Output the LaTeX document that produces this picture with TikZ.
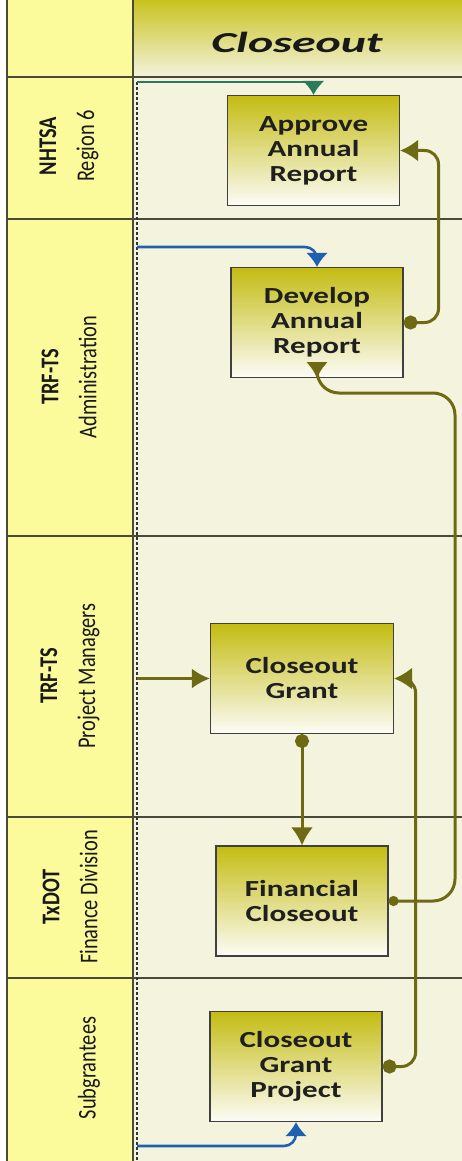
\documentclass[tikz,border=0pt]{standalone}
\usepackage{fontspec}
\setmainfont{Carlito}
\newfontfamily\boxfont[FakeStretch=1.35]{Carlito}
\newfontfamily\headfont[FakeStretch=1.65]{Carlito}
\newfontfamily\lanefont[FakeStretch=0.8]{Carlito}
\usetikzlibrary{arrows.meta}

\definecolor{laneyellow}{HTML}{FBFB9C}
\definecolor{lanebg}{HTML}{F3F3DE}
\definecolor{headtop}{HTML}{C9C31E}
\definecolor{boxtop}{HTML}{C4BC12}
\definecolor{boxbot}{HTML}{FCFCF6}
\definecolor{flowolive}{HTML}{6E6A14}
\definecolor{flowblue}{HTML}{2060B0}
\definecolor{flowgreen}{HTML}{2C7A5C}
\definecolor{gridline}{HTML}{4A4A3A}

\tikzset{
  lanelabel/.style={rotate=90, align=center, inner sep=0pt, text=black!90,
    font=\lanefont\fontsize{25.5}{38}\selectfont},
  task/.style={draw=black!75, line width=1.1pt, top color=boxtop, bottom color=boxbot,
    minimum width=172pt, minimum height=110pt, align=center, inner sep=0pt,
    text=black!88, font=\boxfont\bfseries\fontsize{23}{25}\selectfont},
  startdot/.style={{Circle[length=14pt]}-{Latex[length=18pt,width=22pt]}},
}

\begin{document}
\begin{tikzpicture}[x=1pt, y=-1pt]
\useasboundingbox (0,0) rectangle (462,1161);

% lanes and header
\fill[laneyellow] (7,0) rectangle (133,1161);
\fill[lanebg] (133,77) rectangle (462,1161);
\shade[top color=headtop, bottom color=lanebg] (133,0) rectangle (462,77);
\foreach \y in {77,219,536,817,978} {
  \draw[gridline, line width=1.3pt] (7,\y) -- (462,\y);
}
\draw[gridline, line width=1.3pt] (7,0) -- (7,1161);
\draw[gridline, line width=1.3pt] (133,0) -- (133,1161);
\draw[black!80, line width=1.6pt, dash pattern=on 3pt off 2pt] (137,82) -- (137,1161);

\node[font=\headfont\bfseries\itshape\fontsize{29}{30}\selectfont, text=black!90] (0) at (297,42) {Closeout};

\node[lanelabel] (l1) at (69,146) {\textbf{NHTSA}\\Region 6};
\node[lanelabel] (l2) at (69,377) {\textbf{TRF-TS}\\Administration};
\node[lanelabel] (l3) at (70,676) {\textbf{TRF-TS}\\Project Managers};
\node[lanelabel] (l4) at (70,897) {\textbf{TxDOT}\\Finance Division};
\node[lanelabel] (l5) at (89,1068) {Subgrantees};

% tasks
\node[task] (1) at (313.5,150.5) {Approve\\Annual\\Report};
\node[task] (2) at (317,322.5) {Develop\\Annual\\Report};
\node[task, minimum width=183pt] (3) at (302,678.5) {Closeout\\Grant};
\node[task] (4) at (302,901) {Financial\\Closeout};
\node[task] (5) at (296,1066.5) {Closeout\\Grant\\Project};

\coordinate (g0) at (137,82);
\coordinate (b0) at (137,247);
\coordinate (p0) at (137,678.5);
\coordinate (b1) at (137,1146);

% connectors
\begin{scope}[line width=2.6pt]
  \draw[flowgreen, -{Latex[length=14pt,width=22pt]}] (g0) -| (1.north);
  \draw[flowblue, rounded corners=12pt, -{Latex[length=14pt,width=22pt]}] (b0) -| (2.north);
  \draw[flowblue, rounded corners=12pt, -{Latex[length=14pt,width=22pt]}] (b1) -| (5.south);
\end{scope}
\begin{scope}[line width=3pt, flowolive, rounded corners=14pt]
  \draw[startdot] (2.east) -- ++(35,0) |- (1.east);
  \draw[-{Latex[length=18pt,width=20pt]}] (p0) -- (3.west);
  \draw[startdot] (3.south) -- (4.north);
  \draw[startdot] (5.east) -- ++(33,0) |- (3.east);
  \draw[{Circle[length=10pt]}-{Latex[length=16pt,width=22pt]}, rounded corners=22pt]
    (4.east) -| (455,393) -| (2.south);
\end{scope}

\end{tikzpicture}
\end{document}
